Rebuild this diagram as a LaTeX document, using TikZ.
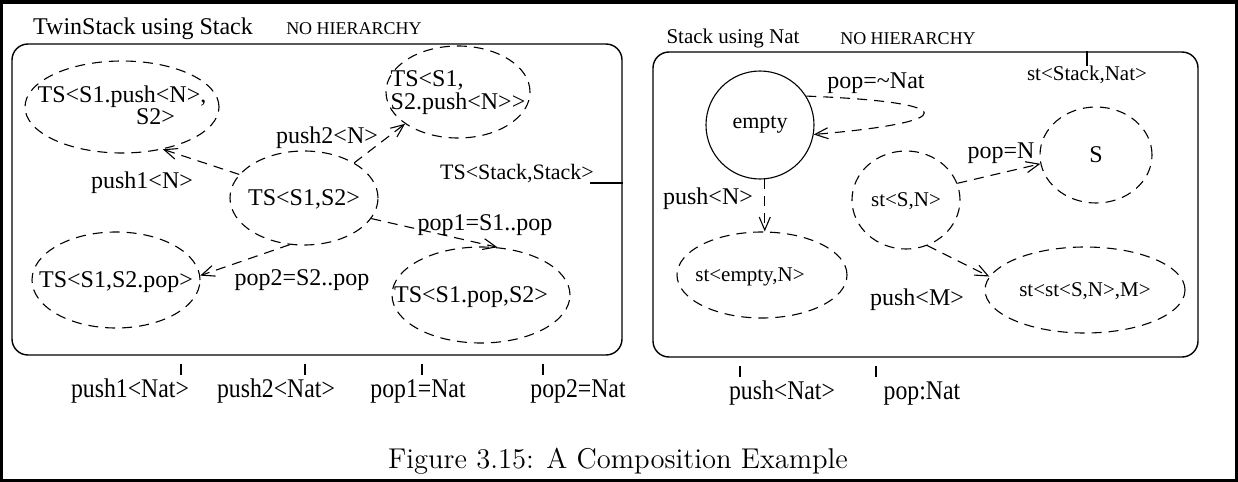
\documentclass[tikz,border=0pt]{standalone}
\usepackage{fontspec}
\usetikzlibrary{shapes.geometric,arrows.meta}
\newfontfamily\tms{Liberation Serif}
\newcommand{\fz}[1]{\tms\fontsize{#1}{10.5}\selectfont}
% text of a state, centred without widening its outline
\newcommand{\ctr}[1]{\smash{\makebox[0pt]{\raisebox{-0.33em}{#1}}}}
\newcommand{\ctrtwo}[2]{\smash{\makebox[0pt]{\raisebox{-0.3em}{\begin{tabular}{@{}l@{}}#1\\#2\end{tabular}}}}}
\tikzset{
  state/.style={draw, ellipse, inner sep=0pt, line width=0.55pt, dash pattern=on 5pt off 3.5pt, font=\fz{12}},
  trans/.style={draw, line width=0.55pt, dash pattern=on 5pt off 3.5pt, -{Straight Barb[length=6.5pt,width=5.5pt]}},
  panel/.style={draw, line width=0.7pt, rounded corners=8pt, inner sep=0pt},
  txt/.style={inner sep=0pt, anchor=base, font=\fz{12}},
  stxt/.style={inner sep=0pt, anchor=base, font=\fz{10.5}},
  hdr/.style={inner sep=0pt, anchor=base, font=\fz{9}},
  iface/.style={inner sep=0pt, anchor=base, font=\tms\fontsize{13.5}{14}\selectfont},
  tick/.style={line width=0.55pt}
}
\begin{document}
\begin{tikzpicture}[x=0.5pt,y=-0.5pt]
\useasboundingbox (0,0) rectangle (1238,482);
% page frame
\draw[line width=1.5pt] (1.5,1.5) rectangle (1236.5,480.5);
\fill (0,0) rectangle (1238,4);

% ---------- TwinStack using Stack ----------
\node[panel, minimum width=305pt, minimum height=155.5pt] (L) at (317,199.5) {};
\node[txt] (lt) at (143,34) {TwinStack using Stack};
\node[hdr] (lh) at (354,34) {NO HIERARCHY};

\node[state, minimum width=97pt, minimum height=46pt] (p1) at (122,107)
  {\ctrtwo{TS<S1.push<N>,}{\hspace*{4.1em}S2>}};
\node[state, minimum width=72pt, minimum height=46pt] (p2) at (458,92)
  {\ctrtwo{TS<S1,}{S2.push<N>{}>}};
\node[state, minimum width=74pt, minimum height=47pt] (c) at (304,198) {\ctr{TS<S1,S2>}};
\node[state, minimum width=84pt, minimum height=48pt] (p4) at (116,280) {\ctr{TS<S1,S2.pop>}};
\node[state, minimum width=89pt, minimum height=48pt] (p5) at (481,295) {\ctr{\hspace*{-10pt}TS<S1.pop,S2>}};

\draw[trans] (c.160) -- (p1.314);
\draw[trans] (c.35) -- (p2.211);
\draw[trans] (c.343) -- (p5.71);
\draw[trans] (c.253) -- (p4.3);

\node[txt] (l1) at (142,188) {push1<N>};
\node[txt] (l2) at (327,143) {push2<N>};
\node[txt] (l3) at (485,230) {pop1=S1..pop};
\node[txt] (l4) at (302,285) {pop2=S2..pop};

\node[txt, font=\fz{11}] (lts) at (517,179) {TS<Stack,Stack>};
\coordinate (lsc) at (590,183);
\draw[tick] (lsc) -- (L.east |- lsc);

% ---------- Stack using Nat ----------
\node[panel, minimum width=272.5pt, minimum height=152.5pt] (R) at (925.5,204.5) {};
\node[stxt] (rt) at (733,43) {Stack using Nat};
\node[hdr] (rh) at (908,44) {NO HIERARCHY};

\node[draw, circle, line width=0.55pt, minimum size=54pt, inner sep=0pt, font=\fz{11}] (e) at (760,125) {empty};
\node[state, minimum width=85pt, minimum height=43pt, font=\fz{10.5}] (se) at (762,275) {\ctr{\hspace*{-12pt}st<empty,N>}};
\node[state, minimum width=54pt, minimum height=49pt, font=\fz{10.5}] (sn) at (906,200) {\ctr{st<S,N>}};
\node[state, minimum width=56pt, minimum height=48pt, font=\fz{12}] (s) at (1096,155) {\ctr{S}};
\node[state, minimum width=100pt, minimum height=43pt, font=\fz{10.5}] (m) at (1085,290) {\ctr{st<st<S,N>,M>}};

\draw[trans] (e.32) .. controls (962,102) and (962,122) .. (e.-10);
\draw[trans] (e.275) -- (e.275 |- se.north);
\draw[trans] (sn.18) -- (s.189);
\draw[trans] (sn.295) -- (m.172);

\node[txt] (r1) at (876,88) {pop=\textasciitilde Nat};
\node[txt] (r2) at (708,204) {push<N>};
\node[txt] (r3) at (1001,158) {pop=N};
\node[txt] (r4) at (917,305) {push<M>};

\node[stxt] (rst) at (1087,80) {st<Stack,Nat>};
\coordinate (rtc) at (1087,66);
\draw[tick] (rtc) -- (rtc |- R.north);

% ---------- interfaces below the panels ----------
\foreach \n/\x in {a/181,b/305,c/422,d/543} {
  \coordinate (t\n) at (\x,364);
  \draw[tick] (t\n) -- ++(0,11);
}
\foreach \n/\x in {e/740,f/876} {
  \coordinate (t\n) at (\x,366);
  \draw[tick] (t\n) -- ++(0,11);
}
\node[iface] (i1) at (130,397) {\scalebox{0.88}[1]{push1<Nat>}};
\node[iface] (i2) at (276,397) {\scalebox{0.88}[1]{push2<Nat>}};
\node[iface] (i3) at (418,397) {\scalebox{0.88}[1]{pop1=Nat}};
\node[iface] (i4) at (578,397) {\scalebox{0.88}[1]{pop2=Nat}};
\node[iface] (i5) at (782,399) {\scalebox{0.88}[1]{push<Nat>}};
\node[iface] (i6) at (922,399) {\scalebox{0.88}[1]{pop:Nat}};

% caption
\node[inner sep=0pt, font=\fontsize{14.3}{16}\selectfont] (cap) at (618,461)
  {Figure 3.15: A Composition Example};
\end{tikzpicture}
\end{document}
